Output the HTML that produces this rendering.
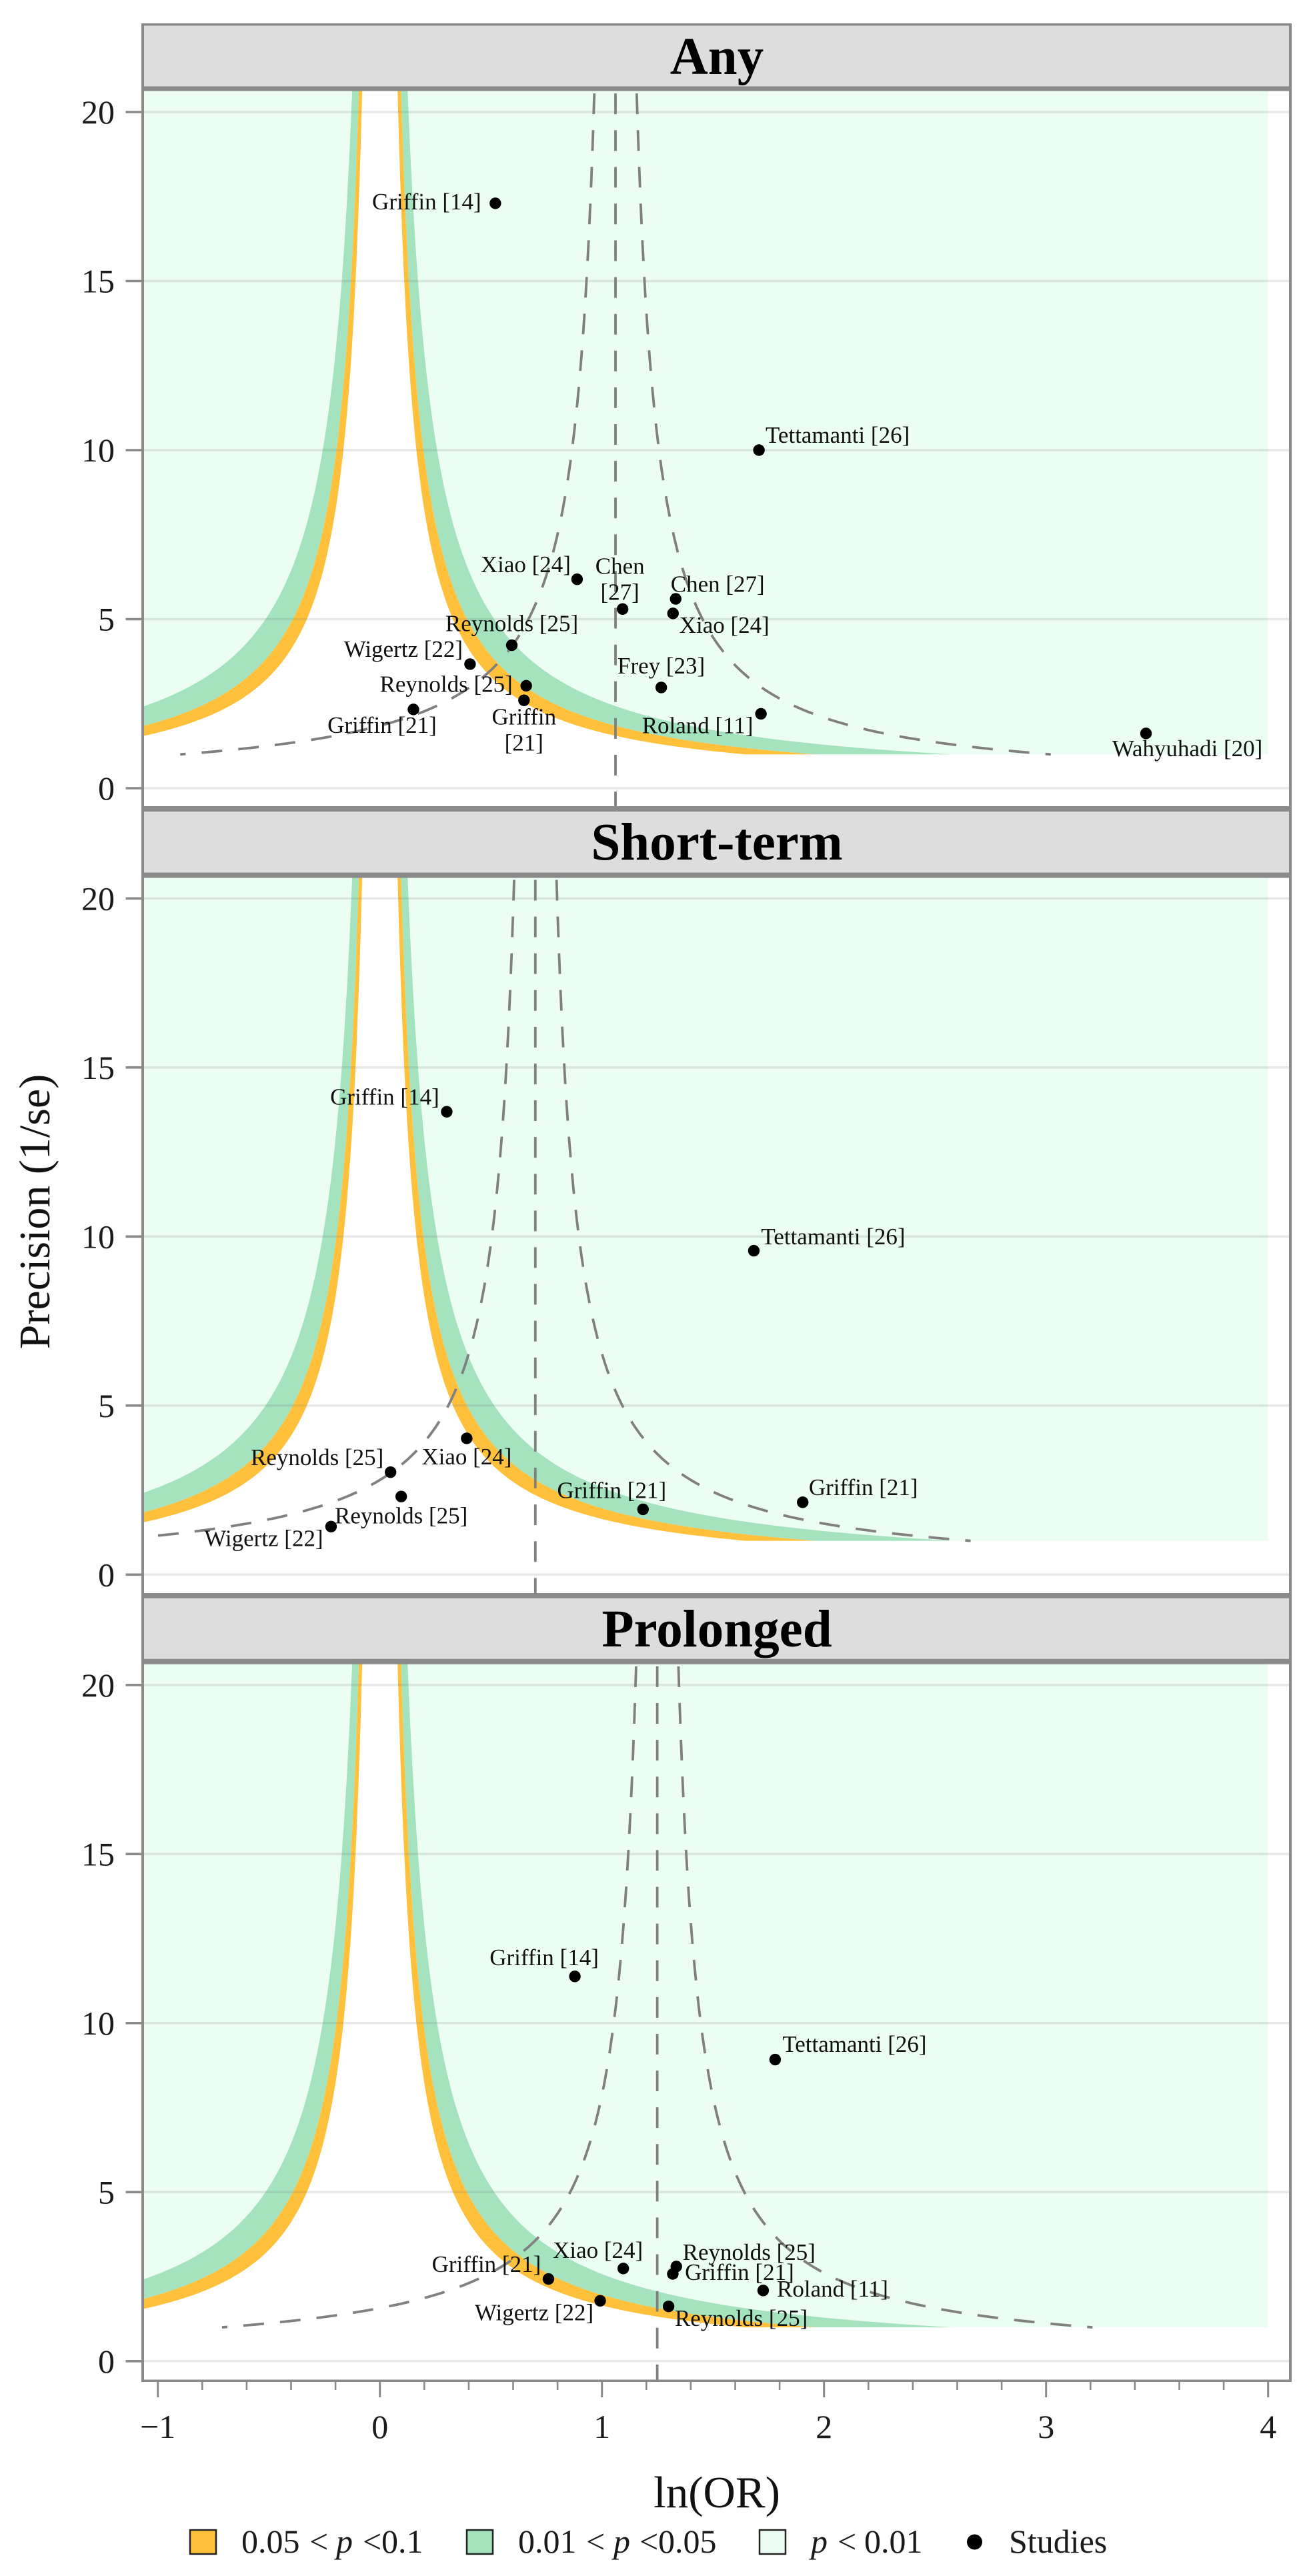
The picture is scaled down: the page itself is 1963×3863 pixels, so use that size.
<!DOCTYPE html>
<html lang="en">
<head>
<meta charset="utf-8">
<title>Contour-enhanced funnel plots</title>
<style>
  html, body { margin: 0; padding: 0; background: #fff; }
  svg { display: block; font-family: "Liberation Serif", "Times New Roman", serif; }
  .tick-label { font-size: 50px; fill: #1a1a1a; }
  .study-label { font-size: 35px; fill: #111; }
  .strip-title { font-size: 79px; font-weight: bold; fill: #000; text-anchor: middle; }
  .legend-text { font-size: 50px; fill: #1a1a1a; }
</style>
</head>
<body>
<svg id="chart" xmlns="http://www.w3.org/2000/svg" width="1963" height="3863" viewBox="0 0 1963 3863">
  <defs>
    <clipPath id="panel-clip"><rect x="215" y="0" width="1720" height="3863"></rect></clipPath>
  </defs>
  <rect x="0" y="0" width="1963" height="3863" fill="#ffffff"></rect>

  <g id="plot-layer" clip-path="url(#panel-clip)"></g>
  <g id="axis-layer"></g>

  <g>
    <rect x="215" y="36" width="1720" height="97" fill="#dddddd"></rect>
    <rect x="212" y="35" width="1725" height="3.5" fill="#8a8a8a"></rect>
    <rect x="212" y="129.5" width="1725" height="7" fill="#8a8a8a"></rect>
    <text class="strip-title" x="1075" y="111">Any</text>
  </g>
  <g>
    <rect x="215" y="1213" width="1720" height="99" fill="#dddddd"></rect>
    <rect x="212" y="1209" width="1725" height="8" fill="#8a8a8a"></rect>
    <rect x="212" y="1308.5" width="1725" height="8" fill="#8a8a8a"></rect>
    <text class="strip-title" x="1075" y="1289">Short-term</text>
  </g>
  <g>
    <rect x="215" y="2392" width="1720" height="100" fill="#dddddd"></rect>
    <rect x="212" y="2389" width="1725" height="7.7" fill="#8a8a8a"></rect>
    <rect x="212" y="2487.7" width="1725" height="8" fill="#8a8a8a"></rect>
    <text class="strip-title" x="1075" y="2469">Prolonged</text>
  </g>

  <g>
    <rect x="212" y="35" width="4" height="3537" fill="#8a8a8a"></rect>
    <rect x="1933" y="35" width="4" height="3537" fill="#8a8a8a"></rect>
    <rect x="212" y="3568.5" width="1725" height="3.5" fill="#8a8a8a"></rect>
  </g>

  <text x="74" y="1817" font-size="66" fill="#111" text-anchor="middle" transform="rotate(-90 74 1817)">Precision (1/se)</text>
  <text x="1075" y="3760" font-size="67" fill="#111" text-anchor="middle">ln(OR)</text>

  <g>
    <g>
      <rect x="285" y="3794" width="39" height="36" fill="#ffc13b" stroke="#222" stroke-width="2.5"></rect>
      <text class="legend-text" y="3828"><tspan x="362">0.05</tspan> <tspan x="464">&lt;</tspan> <tspan x="504" font-style="italic">p</tspan> <tspan x="544">&lt;</tspan><tspan x="572">0.1</tspan></text>
    </g>
    <g>
      <rect x="700" y="3794" width="39" height="36" fill="#a4e3bd" stroke="#222" stroke-width="2.5"></rect>
      <text class="legend-text" y="3828"><tspan x="777">0.01</tspan> <tspan x="879">&lt;</tspan> <tspan x="920" font-style="italic">p</tspan> <tspan x="959">&lt;</tspan><tspan x="987">0.05</tspan></text>
    </g>
    <g>
      <rect x="1139" y="3794" width="39" height="36" fill="#ecfdf3" stroke="#222" stroke-width="2.5"></rect>
      <text class="legend-text" y="3828"><tspan x="1216" font-style="italic">p</tspan> <tspan x="1256">&lt;</tspan> <tspan x="1296">0.01</tspan></text>
    </g>
    <g>
      <circle cx="1461.5" cy="3812" r="11.5" fill="#000"></circle>
      <text class="legend-text" x="1513" y="3828">Studies</text>
    </g>
  </g>
</svg>

<script>
// ---- Data ----
const xTickValues = [-1, 0, 1, 2, 3, 4];
const xTickLabels = ['\u22121', '0', '1', '2', '3', '4'];
const yTickValues = [0, 5, 10, 15, 20];
const yTickLabels = ['0', '5', '10', '15', '20'];

// Critical z values bounding the contour bands (p = 0.1, 0.05, 0.01)
const contourZ = [1.645, 1.96, 2.576];
const pseudoCiZ = 1.96;

const anyStudies = ['Griffin [14]', 'Tettamanti [26]', 'Xiao [24]', 'Chen\n[27]', 'Chen [27]', 'Xiao [24]', 'Reynolds [25]', 'Wigertz [22]', 'Frey [23]', 'Reynolds [25]', 'Griffin\n[21]', 'Griffin [21]', 'Roland [11]', 'Wahyuhadi [20]'];
const anyLnOr = [0.52, 1.707, 0.888, 1.093, 1.332, 1.32, 0.594, 0.406, 1.267, 0.659, 0.649, 0.151, 1.716, 3.45];
const anyPrecision = [17.3, 10.0, 6.18, 5.30, 5.60, 5.17, 4.23, 3.67, 2.98, 3.03, 2.60, 2.33, 2.20, 1.62];
const anyPooled = 1.061;

const shortStudies = ['Griffin [14]', 'Tettamanti [26]', 'Griffin [21]', 'Griffin [21]', 'Xiao [24]', 'Reynolds [25]', 'Reynolds [25]', 'Wigertz [22]'];
const shortLnOr = [0.301, 1.684, 1.904, 1.185, 0.391, 0.048, 0.096, -0.22];
const shortPrecision = [13.69, 9.58, 2.14, 1.93, 4.03, 3.03, 2.31, 1.42];
const shortPooled = 0.70;

const prolongedStudies = ['Griffin [14]', 'Tettamanti [26]', 'Griffin [21]', 'Xiao [24]', 'Wigertz [22]', 'Reynolds [25]', 'Griffin [21]', 'Reynolds [25]', 'Roland [11]'];
const prolongedLnOr = [0.878, 1.78, 0.759, 1.096, 0.992, 1.335, 1.319, 1.30, 1.726];
const prolongedPrecision = [11.38, 8.92, 2.43, 2.74, 1.785, 2.80, 2.58, 1.62, 2.09];
const prolongedPooled = 1.249;

// ---- Layout (label nudges relative to each point, scales, styling) ----
const anyLabelNudge = [[-103,0],[118,-20],[-77,-20],[-4,-62],[63,-20],[77,20],[0,-30],[-100,-20],[0,-30],[-120,0],[0,27],[-47,26],[-95,20],[62,25]];
const shortLabelNudge = [[-93,-20],[119,-19],[91,-20],[-47,-26],[0,30],[-110,-20],[0,31],[-101,20]];
const prolongedLabelNudge = [[-46,-26],[119,-21],[-93,-20],[-38,-25],[-99,20],[109,-19],[100,0],[109,20],[104,0]];

const panelZeroY = [1182, 2361.3, 3540.8];
const panelKeys = ['any', 'short-term', 'prolonged'];
const X_ORIGIN = 569.7, X_UNIT = 333, Y_UNIT = 50.7;
const PREC_TOP = 20.55, PREC_BOTTOM = -0.6, PREC_MIN = 1;
const X_LEFT_EDGE = -1.2, X_RIGHT_FILL = 4;
const COL_LIGHT = '#ecfdf3', COL_GREEN = '#a4e3bd', COL_ORANGE = '#ffc13b';

const SVG_NS = 'http://www.w3.org/2000/svg';
const plotLayer = document.getElementById('plot-layer');
const axisLayer = document.getElementById('axis-layer');

function xScale(v) { return X_ORIGIN + X_UNIT * v; }
function yScale(panelIndex, v) { return panelZeroY[panelIndex] - Y_UNIT * v; }

function make(tag, parent, attrs) {
  const el = document.createElementNS(SVG_NS, tag);
  for (const k in attrs) el.setAttribute(k, attrs[k]);
  parent.appendChild(el);
  return el;
}

function precisionSteps(n, top) {
  const out = [];
  for (let i = 0; i <= n; i++) out.push(PREC_MIN * Math.pow(top / PREC_MIN, i / n));
  return out;
}

function curvePoints(panelIndex, centre, z, sign, steps) {
  return steps.map(function (p) {
    return xScale(centre + sign * z / p).toFixed(1) + ',' + yScale(panelIndex, p).toFixed(1);
  });
}

function bandPolygon(panelIndex, zInner, zOuter, sign) {
  const steps = precisionSteps(140, PREC_TOP + 0.5);
  const inner = curvePoints(panelIndex, 0, zInner, sign, steps);
  const outer = curvePoints(panelIndex, 0, zOuter, sign, steps).reverse();
  return inner.concat(outer).join(' ');
}

function outerPolygon(panelIndex, sign) {
  const top = PREC_TOP + 0.5;
  const steps = precisionSteps(140, top);
  const limitX = xScale(sign > 0 ? X_RIGHT_FILL : X_LEFT_EDGE);
  const edge = steps.map(function (p) {
    const x = xScale(sign * contourZ[2] / p);
    const clamped = sign > 0 ? Math.min(x, limitX) : Math.max(x, limitX);
    return clamped.toFixed(1) + ',' + yScale(panelIndex, p).toFixed(1);
  });
  return edge.concat([
    limitX.toFixed(1) + ',' + yScale(panelIndex, top).toFixed(1),
    limitX.toFixed(1) + ',' + yScale(panelIndex, PREC_MIN).toFixed(1)
  ]).join(' ');
}

function drawContours(panelIndex, group) {
  const sides = [-1, 1];
  sides.forEach(function (sign) {
    const suffix = sign < 0 ? 'left' : 'right';

    const outer = make('polygon', group, { points: outerPolygon(panelIndex, sign), fill: COL_LIGHT });
    
    

    const green = make('polygon', group, { points: bandPolygon(panelIndex, contourZ[1], contourZ[2], sign), fill: COL_GREEN });
    
    

    const orange = make('polygon', group, { points: bandPolygon(panelIndex, contourZ[0], contourZ[1], sign), fill: COL_ORANGE });
    
    
  });
}

function drawGrid(panelIndex, group) {
  yTickValues.forEach(function (v) {
    const y = yScale(panelIndex, v);
    const line = make('line', group, { x1: 215, x2: 1935, y1: y, y2: y, stroke: 'rgba(110,120,115,0.16)', 'stroke-width': 3.5 });
    
    
  });
}

function drawPseudoCi(panelIndex, group, pooled) {
  const dashStyle = { fill: 'none', stroke: '#808080', 'stroke-width': 3.8, 'stroke-dasharray': '31 24.1' };
  const steps = precisionSteps(160, PREC_TOP).reverse();

  const mid = make('line', group, Object.assign({ x1: xScale(pooled), x2: xScale(pooled), y1: yScale(panelIndex, PREC_TOP), y2: yScale(panelIndex, PREC_BOTTOM) }, dashStyle));
  
  

  const left = make('polyline', group, Object.assign({ points: curvePoints(panelIndex, pooled, pseudoCiZ, -1, steps).join(' ') }, dashStyle));
  
  

  const right = make('polyline', group, Object.assign({ points: curvePoints(panelIndex, pooled, pseudoCiZ, 1, steps).join(' ') }, dashStyle));
  
  
}

function drawStudies(panelIndex, group, studies, lnOr, precision, nudges) {
  studies.forEach(function (label, i) {
    const cx = xScale(lnOr[i]);
    const cy = yScale(panelIndex, precision[i]);

    const dot = make('circle', group, { cx: cx, cy: cy, r: 8.7, fill: '#000' });
    
    

    const lines = label.split('\n');
    lines.forEach(function (lineText, li) {
      const t = make('text', group, {
        class: 'study-label',
        x: cx + nudges[i][0],
        y: cy + nudges[i][1] + 9.2 + li * 39,
        'text-anchor': 'middle'
      });
      
      
      t.textContent = lineText;
    });
  });
}

function drawYAxis(panelIndex) {
  yTickValues.forEach(function (v, i) {
    const y = yScale(panelIndex, v);
    const tick = make('line', axisLayer, { x1: 188.5, x2: 214, y1: y, y2: y, stroke: '#8a8a8a', 'stroke-width': 3.6 });
    
    

    const t = make('text', axisLayer, { class: 'tick-label', x: 172, y: y + 17, 'text-anchor': 'end' });
    
    
    t.textContent = yTickLabels[i];
  });
}

function drawXAxis() {
  for (let n = -5; n <= 20; n++) {
    if (n % 5 === 0) continue;
    const x = xScale(n / 5);
    const minor = make('line', axisLayer, { x1: x, x2: x, y1: 3570, y2: 3584, stroke: '#8a8a8a', 'stroke-width': 2.6 });
    
    
  }
  xTickValues.forEach(function (v, i) {
    const x = xScale(v);
    const tick = make('line', axisLayer, { x1: x, x2: x, y1: 3570, y2: 3595, stroke: '#8a8a8a', 'stroke-width': 3 });
    
    

    const t = make('text', axisLayer, { class: 'tick-label', x: x, y: 3656, 'text-anchor': 'middle' });
    
    
    t.textContent = xTickLabels[i];
  });
}

function drawPanel(panelIndex, studies, lnOr, precision, pooled, nudges) {
  const g = make('g', plotLayer, {});
  
  
  drawContours(panelIndex, g);
  drawGrid(panelIndex, g);
  drawPseudoCi(panelIndex, g, pooled);
  drawStudies(panelIndex, g, studies, lnOr, precision, nudges);
  drawYAxis(panelIndex);
}

drawPanel(0, anyStudies, anyLnOr, anyPrecision, anyPooled, anyLabelNudge);
drawPanel(1, shortStudies, shortLnOr, shortPrecision, shortPooled, shortLabelNudge);
drawPanel(2, prolongedStudies, prolongedLnOr, prolongedPrecision, prolongedPooled, prolongedLabelNudge);
drawXAxis();
</script>
</body>
</html>
